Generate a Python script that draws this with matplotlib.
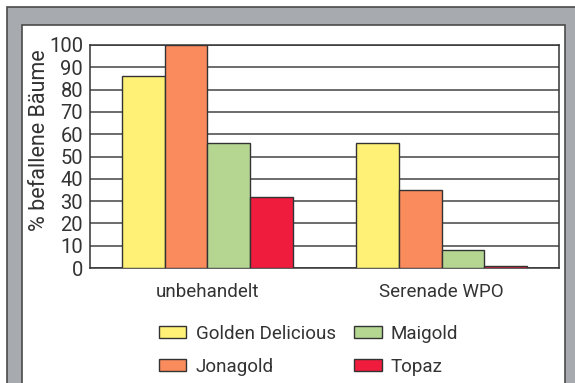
import matplotlib
matplotlib.use("Agg")
import matplotlib.pyplot as plt
from matplotlib.patches import Rectangle
import numpy as np

plt.rcParams['font.family'] = ['Roboto', 'DejaVu Sans']

categories = ["unbehandelt", "Serenade WPO"]
series_names = ["Golden Delicious", "Jonagold", "Maigold", "Topaz"]
golden = [86, 56]
jonagold = [100, 35]
maigold = [56, 8]
topaz = [32, 1]
yticks = [0, 10, 20, 30, 40, 50, 60, 70, 80, 90, 100]
colors = ["#FFF176", "#F98B5C", "#B5D691", "#EF1C3E"]

W, H = 575, 383
fig = plt.figure(figsize=(W / 100, H / 100), dpi=100)

def px_rect(x0, y0, x1, y1, **kw):
    r = Rectangle((x0 / W, 1 - y1 / H), (x1 - x0) / W, (y1 - y0) / H,
                  transform=fig.transFigure, **kw)
    fig.patches.append(r)

px_rect(7, 7, 600, 420, facecolor="#A7AAAE", edgecolor="#4a4a4a", linewidth=1.2, zorder=-2)
px_rect(22, 25, 565, 420, facecolor="white", edgecolor="#4a4a4a", linewidth=1.2, zorder=-1)

ax = fig.add_axes([90 / W, 1 - 268 / H, (559 - 90) / W, (268 - 45) / H])
ax.set_facecolor("white")

x = np.arange(len(categories))
bw = 0.182
data = [golden, jonagold, maigold, topaz]
for i, (vals, name, c) in enumerate(zip(data, series_names, colors)):
    ax.bar(x + (i - 1.5) * bw, vals, width=bw, color=c, edgecolor="#333333",
           linewidth=1.0, label=name, zorder=3)

ax.set_xlim(-0.5, 1.5)
ax.set_ylim(0, 100)
ax.set_yticks(yticks)
ax.set_yticklabels([str(v) for v in yticks], fontsize=14.5, color="#333333")
ax.set_xticks(x)
ax.set_xticklabels(categories, fontsize=13.5, color="#333333")
ax.tick_params(axis="both", length=0, pad=5)
ax.tick_params(axis="x", pad=11)
ax.yaxis.grid(True, color="#444444", linewidth=1.1, zorder=0)
ax.set_axisbelow(True)
for s in ax.spines.values():
    s.set_color("#333333")
    s.set_linewidth(1.1)
ax.set_ylabel("% befallene Bäume", fontsize=15.5, color="#333333")
ax.yaxis.set_label_coords(-0.086, 0.574)

handles, labels = ax.get_legend_handles_labels()
leg = fig.legend(handles, labels, ncol=2, loc="upper left",
                 bbox_to_anchor=(159 / W, 1 - 325 / H), frameon=False,
                 fontsize=13.5, handlelength=1.45, handleheight=0.6,
                 handletextpad=0.5, columnspacing=1.0, labelspacing=0.8,
                 borderpad=0, borderaxespad=0)
for t in leg.get_texts():
    t.set_color("#333333")

fig.savefig("out.png", dpi=100)
